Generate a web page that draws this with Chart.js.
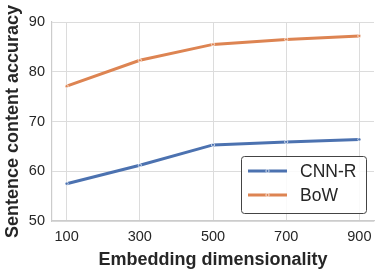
<!DOCTYPE html>
<html>
<head>
<meta charset="utf-8">
<script src="https://cdn.jsdelivr.net/npm/chart.js@4/dist/chart.umd.min.js"></script>
<style>
  html, body { margin: 0; padding: 0; background: #fff; }
  #wrap { width: 384px; height: 271px; }
</style>
</head>
<body>
<div id="wrap"><canvas id="chart" width="384" height="271"></canvas></div>
<script>
const dims = [100, 300, 500, 700, 900];
const cnnR = [57.5, 61.2, 65.3, 65.9, 66.4];
const bow = [77.1, 82.3, 85.5, 86.5, 87.2];
const yTicks = [50, 60, 70, 80, 90];

const FONT = "'Liberation Sans', Arial, sans-serif";
const BLUE = '#4C72B0';
const ORANGE = '#DD8452';
const INK = '#262626';

// legend drawn inside the plot, bottom-right like the matplotlib one
const boxLegend = {
    id: 'boxLegend',
    afterDraw(chart) {
        const ctx = chart.ctx;
        const x = 241, y = 156, w = 125, h = 57;
        ctx.save();
        ctx.fillStyle = 'rgba(255,255,255,0.85)';
        ctx.strokeStyle = '#444';
        ctx.lineWidth = 1;
        ctx.beginPath();
        ctx.roundRect(x + 0.5, y + 0.5, w, h, 3);
        ctx.fill();
        ctx.stroke();
        chart.data.datasets.forEach((ds, i) => {
            const cy = y + 15 + i * 24;
            ctx.strokeStyle = ds.borderColor;
            ctx.lineWidth = 3;
            ctx.beginPath();
            ctx.moveTo(248, cy);
            ctx.lineTo(287, cy);
            ctx.stroke();
            ctx.fillStyle = ds.borderColor;
            ctx.strokeStyle = '#fff';
            ctx.lineWidth = 0.7;
            ctx.beginPath();
            ctx.arc(267.5, cy, 1.6, 0, Math.PI * 2);
            ctx.fill();
            ctx.stroke();
            ctx.fillStyle = INK;
            ctx.font = '17.5px ' + FONT;
            ctx.textBaseline = 'middle';
            ctx.fillText(ds.label, 300, cy + 1);
        });
        ctx.restore();
    }
};

new Chart(document.getElementById('chart').getContext('2d'), {
    type: 'line',
    data: {
        datasets: [
            {
                label: 'CNN-R',
                data: dims.map((d, i) => ({ x: d, y: cnnR[i] })),
                borderColor: BLUE,
                backgroundColor: BLUE,
                borderWidth: 3,
                pointRadius: 1.6,
                pointBorderColor: '#fff',
                pointBorderWidth: 0.7,
                fill: false
            },
            {
                label: 'BoW',
                data: dims.map((d, i) => ({ x: d, y: bow[i] })),
                borderColor: ORANGE,
                backgroundColor: ORANGE,
                borderWidth: 3,
                pointRadius: 1.6,
                pointBorderColor: '#fff',
                pointBorderWidth: 0.7,
                fill: false
            }
        ]
    },
    options: {
        responsive: false,
        animation: false,
        layout: { padding: { top: 22, right: 10, left: 0, bottom: 0 } },
        plugins: {
            legend: { display: false },
            tooltip: { enabled: false }
        },
        scales: {
            x: {
                type: 'linear',
                min: 60,
                max: 940,
                afterBuildTicks: s => { s.ticks = dims.map(v => ({ value: v })); },
                afterFit: s => { s.height = 50; },
                grid: { color: '#dcdcdc', lineWidth: 1, drawTicks: false },
                border: { color: '#cccccc', width: 1.2 },
                ticks: { color: INK, font: { family: FONT, size: 14.5 }, padding: 7, maxRotation: 0 },
                title: {
                    display: true,
                    text: 'Embedding dimensionality',
                    color: INK,
                    font: { family: FONT, size: 18, weight: 'bold' },
                    padding: { top: 1, bottom: 0 }
                }
            },
            y: {
                min: 50,
                max: 90,
                afterBuildTicks: s => { s.ticks = yTicks.map(v => ({ value: v })); },
                afterFit: s => { s.width = 52; },
                grid: { color: '#dcdcdc', lineWidth: 1, drawTicks: false },
                border: { color: '#cccccc', width: 1.2 },
                ticks: { color: INK, font: { family: FONT, size: 14.5 }, padding: 7 },
                title: {
                    display: true,
                    text: 'Sentence content accuracy',
                    color: INK,
                    font: { family: FONT, size: 18, weight: 'bold' },
                    padding: { top: 2, bottom: 0 }
                }
            }
        }
    },
    plugins: [boxLegend]
});
</script>
</body>
</html>
